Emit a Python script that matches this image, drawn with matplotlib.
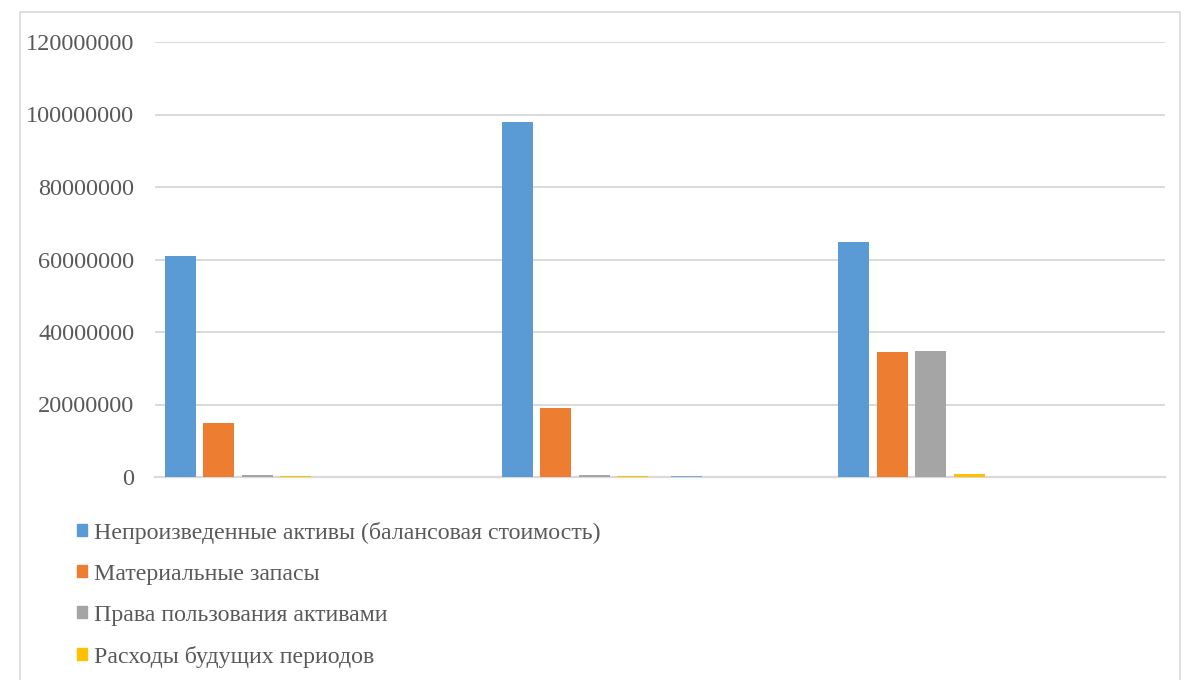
import numpy as np
import matplotlib.pyplot as plt
from matplotlib.patches import Patch, Rectangle

# data
categories = ["1", "2", "3"]
series_names = ["Непроизведенные активы (балансовая стоимость)",
                "Материальные запасы",
                "Права пользования активами",
                "Расходы будущих периодов"]
s_assets = [61.0e6, 98.0e6, 64.9e6]
s_stock = [14.8e6, 19.0e6, 34.5e6]
s_rights = [0.6e6, 0.6e6, 34.8e6]
s_future = [0.4e6, 0.4e6, 0.7e6]
s_other = [0.0, 0.4e6, 0.0]
yticks = [0, 20000000, 40000000, 60000000, 80000000, 100000000, 120000000]

colors = ["#5B9BD5", "#ED7D31", "#A5A5A5", "#FFC000", "#7FAADD"]
values = [s_assets, s_stock, s_rights, s_future, s_other]
slots = [0, 1, 2, 3, 4.4]

plt.rcParams['font.family'] = ['Liberation Serif', 'DejaVu Serif']

fig = plt.figure(figsize=(11.87, 6.8), dpi=100)
# outer chart border
fig.patches.append(Rectangle((20/1187, -0.1), 1160/1187, 1.1 - 12/680,
                             transform=fig.transFigure, fill=False,
                             edgecolor="#D9D9D9", linewidth=1.2))

ax = fig.add_axes([155/1187, 1 - 477/680, 1010/1187, 435/680])

x = np.arange(len(categories))
bw = 31/336.7
step = 38.5/336.7
start = -0.5 + 10/336.7
for vals, col, k in zip(values, colors, slots):
    ax.bar(x + start + k*step, vals, width=bw, align='edge', color=col,
           linewidth=0, zorder=3)

ax.set_xlim(-0.5, len(categories) - 0.5)
ax.set_ylim(0, 120e6)
ax.set_yticks(yticks)
ax.set_yticklabels([str(v) for v in yticks])
ax.set_xticks([])
ax.grid(axis='y', color="#D9D9D9", linewidth=1.4, zorder=0)
for sp in ['top', 'right', 'left']:
    ax.spines[sp].set_visible(False)
ax.spines['bottom'].set_color("#D9D9D9")
ax.spines['bottom'].set_linewidth(1.6)
ax.spines['bottom'].set_zorder(2)
ax.tick_params(axis='y', length=0, pad=15, labelsize=17.5, labelcolor="#595959")

handles = [Patch(color=c) for c in colors[:4]]
fig.legend(handles, series_names, loc='upper left',
           bbox_to_anchor=(67/1187, 1 - 512/680), frameon=False,
           fontsize=17.2, labelcolor="#595959", handlelength=0.42,
           handleheight=0.42, handletextpad=0.3, labelspacing=0.84,
           borderaxespad=0)

fig.savefig("out.png", dpi=100)
